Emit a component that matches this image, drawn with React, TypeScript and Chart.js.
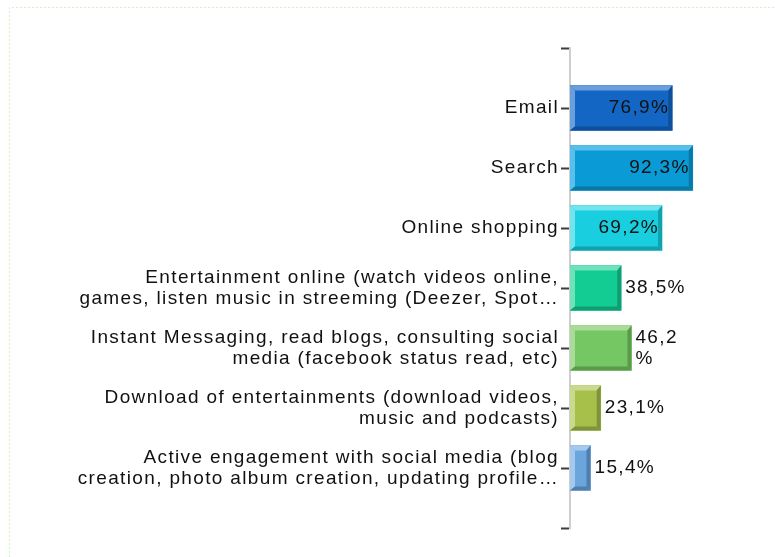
import React, { useEffect, useRef } from "react";
import { Chart, registerables } from "chart.js";

Chart.register(...registerables);

const categories: (string | string[])[] = [
  "Email",
  "Search",
  "Online shopping",
  ["Entertainment online (watch videos online,", "games, listen music in streeming (Deezer, Spot…"],
  ["Instant Messaging, read blogs, consulting social", "media (facebook status read, etc)"],
  ["Download of entertainments (download videos,", "music and podcasts)"],
  ["Active engagement with social media (blog", "creation, photo album creation, updating profile…"],
];
const values = [76.9, 92.3, 69.2, 38.5, 46.2, 23.1, 15.4];
const valueLabels: (string | string[])[] = ["76,9%", "92,3%", "69,2%", "38,5%", ["46,2", "%"], "23,1%", "15,4%"];
const barColors = ["#1466c4", "#0a9bd6", "#19cfdf", "#13cc94", "#74c762", "#a7c04a", "#6aa6dc"];
const lightColors = ["#6a9fdc", "#58c0ea", "#73e4ee", "#6fe2bb", "#a9dc99", "#c9da8f", "#a5c9ec"];
const darkColors = ["#0d4f9b", "#0879a8", "#13a2ad", "#0e9e71", "#5a9b4b", "#7f933a", "#4e7fae"];

const FONT_FAMILY = "Arial, 'Liberation Sans', sans-serif";
const FONT_SIZE = 19;
const LETTER_SPACING = "1.35px";
const TEXT_COLOR = "#111111";

const framePlugin = {
  id: "frame",
  beforeDraw(chart: any) {
    const ctx = chart.ctx;
    (ctx as any).letterSpacing = LETTER_SPACING;
    ctx.save();
    ctx.strokeStyle = "#d4f2cb";
    ctx.lineWidth = 1;
    ctx.setLineDash([2, 2]);
    ctx.beginPath();
    ctx.moveTo(9.5, chart.height);
    ctx.lineTo(9.5, 7.5);
    ctx.lineTo(chart.width, 7.5);
    ctx.stroke();
    ctx.restore();
  },
};

const bevelPlugin = {
  id: "bevel",
  afterDatasetsDraw(chart: any) {
    const ctx = chart.ctx;
    const meta = chart.getDatasetMeta(0);
    const data = chart.data.datasets[0].data;
    ctx.save();
    meta.data.forEach((bar: any, i: number) => {
      const v = data[i];
      if (v === null || v === undefined) return;
      const k = i - 1;
      const L = Math.min(bar.base, bar.x);
      const R = Math.max(bar.base, bar.x);
      const T = bar.y - bar.height / 2;
      const B = bar.y + bar.height / 2;
      const bt = 5;
      const bb = 4;
      const poly = (pts: number[][], color: string) => {
        ctx.fillStyle = color;
        ctx.beginPath();
        ctx.moveTo(pts[0][0], pts[0][1]);
        for (let j = 1; j < pts.length; j++) ctx.lineTo(pts[j][0], pts[j][1]);
        ctx.closePath();
        ctx.fill();
      };
      poly([[L, T], [R, T], [R - bb, T + bt], [L + bt, T + bt]], lightColors[k]);
      poly([[L, T], [L + bt, T + bt], [L + bt, B - bb], [L, B]], lightColors[k]);
      poly([[R, T], [R, B], [R - bb, B - bb], [R - bb, T + bt]], darkColors[k]);
      poly([[L, B], [R, B], [R - bb, B - bb], [L + bt, B - bb]], darkColors[k]);

      // value label
      const lbl = valueLabels[k];
      const lines = Array.isArray(lbl) ? lbl : [lbl];
      ctx.font = `${FONT_SIZE}px ${FONT_FAMILY}`;
      (ctx as any).letterSpacing = LETTER_SPACING;
      ctx.fillStyle = TEXT_COLOR;
      ctx.textBaseline = "middle";
      const w = ctx.measureText(lines.join("")).width;
      const lh = 21;
      const inside = w + 12 < R - L;
      lines.forEach((s: string, j: number) => {
        const y = bar.y + (j - (lines.length - 1) / 2) * lh;
        if (inside) {
          ctx.textAlign = "right";
          ctx.fillText(s, R - 3, y);
        } else {
          ctx.textAlign = "left";
          ctx.fillText(s, R + 4, y);
        }
      });
    });
    ctx.restore();
  },
};

export default function App() {
  const ref = useRef<HTMLCanvasElement | null>(null);
  useEffect(() => {
    if (!ref.current) return;
    const labels = ["", ...categories, ""];
    const dataVals = [null, ...values, null];
    const chart = new Chart(ref.current, {
      type: "bar",
      data: {
        labels: labels as any,
        datasets: [
          {
            data: dataVals as any,
            backgroundColor: ["#000", ...barColors, "#000"],
            borderWidth: 0,
            barThickness: 45,
          },
        ],
      },
      options: {
        indexAxis: "y",
        responsive: false,
        animation: false,
        events: [],
        layout: { padding: { top: 48, bottom: 29, right: 72, left: 0 } },
        plugins: {
          legend: { display: false },
          tooltip: { enabled: false },
          title: { display: false },
        },
        scales: {
          x: {
            display: false,
            min: 0,
            max: 100,
          },
          y: {
            offset: false,
            afterFit: (scale: any) => {
              scale.width = 570;
            },
            grid: {
              offset: false,
              drawOnChartArea: false,
              drawTicks: true,
              tickLength: 9,
              tickColor: "#3c3c3c",
              tickWidth: 2,
            },
            border: { display: true, color: "#cfcfcf", width: 2 },
            ticks: {
              autoSkip: false,
              padding: 2,
              color: TEXT_COLOR,
              font: { family: FONT_FAMILY, size: FONT_SIZE, lineHeight: 1.1 },
            },
          },
        },
      },
      plugins: [framePlugin, bevelPlugin],
    });
    return () => chart.destroy();
  }, []);
  return (
    <div style={{ position: "absolute", left: 0, top: 0, width: 775, height: 557, background: "#fff" }}>
      <canvas ref={ref} width={775} height={557} style={{ display: "block" }} />
    </div>
  );
}
